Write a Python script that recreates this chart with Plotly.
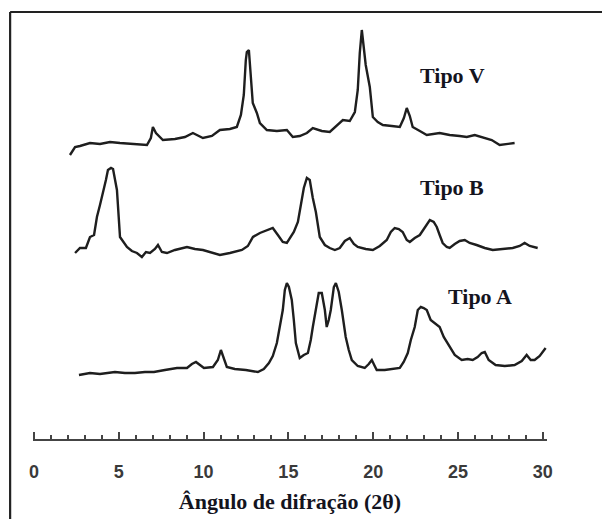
import plotly.graph_objects as go

# Diffraction angle (2θ) and intensity (a.u., vertically offset) for each pattern
angle_v = [2.12, 2.42, 2.71, 3.30, 3.89, 4.48, 5.07, 5.95, 6.66, 6.89, 7.01, 7.19, 7.60, 8.31, 8.90, 9.37,
           9.96, 10.49, 10.96, 11.55, 11.96, 12.20, 12.37, 12.49, 12.55, 12.67, 12.79, 12.90, 13.14, 13.32,
           13.73, 14.32, 14.91, 15.26, 15.67, 16.09, 16.44, 16.97, 17.44, 17.85, 18.21, 18.62, 18.92, 19.09,
           19.21, 19.33, 19.45, 19.56, 19.80, 19.98, 20.27, 20.57, 21.10, 21.57, 21.81, 21.98, 22.16, 22.33,
           22.75, 23.16, 23.92, 24.51, 25.10, 25.52, 25.99, 26.46, 26.99, 27.46, 27.93, 28.34]
inten_v = [284, 292, 293, 296, 295, 297, 296, 295, 294, 301, 312, 306, 299, 300, 302, 306,
           301, 303, 309, 310, 312, 324, 344, 379, 387, 389, 364, 336, 326, 316,
           309, 308, 309, 302, 303, 306, 311, 308, 307, 313, 319, 318, 327, 349,
           386, 409, 389, 374, 352, 322, 317, 314, 313, 312, 321, 331, 323, 312,
           308, 304, 306, 304, 303, 302, 304, 302, 299, 294, 295, 296]

angle_b = [2.42, 2.71, 3.06, 3.30, 3.54, 3.71, 3.89, 4.07, 4.24, 4.36, 4.54, 4.66, 4.77, 4.89, 5.07, 5.30,
           5.48, 5.77, 6.07, 6.36, 6.60, 6.84, 7.13, 7.31, 7.54, 7.84, 8.31, 9.02, 9.49, 9.96, 10.37, 10.96,
           11.55, 12.26, 12.61, 12.91, 13.32, 13.73, 14.08, 14.38, 14.67, 14.91, 15.14, 15.32, 15.56, 15.73,
           15.91, 16.09, 16.26, 16.44, 16.62, 16.85, 17.15, 17.44, 17.74, 18.03, 18.33, 18.62, 18.86, 19.09,
           19.56, 19.98, 20.39, 20.80, 21.04, 21.27, 21.51, 21.74, 21.98, 22.16, 22.45, 22.75, 23.04, 23.34,
           23.57, 23.75, 23.92, 24.10, 24.34, 24.51, 24.81, 25.10, 25.40, 25.69, 26.10, 26.58, 27.05, 27.64,
           28.23, 28.64, 28.93, 29.23, 29.70]
inten_b = [186, 191, 191, 202, 204, 222, 234, 246, 259, 269, 271, 270, 261, 249, 202, 196,
           192, 188, 186, 182, 187, 186, 190, 194, 187, 186, 189, 192, 190, 189, 187, 184,
           186, 189, 193, 202, 206, 209, 211, 204, 197, 196, 203, 207, 217, 234,
           251, 261, 259, 241, 227, 202, 194, 191, 189, 191, 198, 201, 195, 192,
           190, 189, 193, 199, 207, 211, 210, 207, 199, 197, 201, 204, 212, 219,
           217, 212, 204, 196, 192, 191, 195, 198, 199, 196, 194, 191, 189, 190,
           191, 193, 196, 193, 191]

angle_a = [2.65, 3.30, 3.89, 4.77, 5.36, 5.95, 6.54, 7.07, 7.72, 8.43, 9.02, 9.31, 9.55, 9.78, 10.02, 10.55,
           10.84, 11.02, 11.20, 11.37, 11.84, 12.49, 13.20, 13.55, 13.85, 14.08, 14.32, 14.50, 14.67, 14.79,
           14.91, 15.03, 15.20, 15.32, 15.44, 15.67, 15.91, 16.15, 16.32, 16.44, 16.62, 16.79, 16.97, 17.15,
           17.26, 17.38, 17.50, 17.68, 17.80, 17.97, 18.15, 18.27, 18.38, 18.56, 18.74, 19.09, 19.50, 19.74,
           19.92, 20.09, 20.21, 20.68, 21.16, 21.57, 21.80, 22.04, 22.22, 22.45, 22.63, 22.81, 22.98, 23.16,
           23.39, 23.63, 23.92, 24.16, 24.51, 24.81, 25.22, 25.57, 25.87, 26.16, 26.40, 26.58, 26.81, 27.22,
           27.76, 28.34, 28.76, 29.05, 29.29, 29.52, 29.82, 30.17]
inten_a = [64, 66, 65, 67, 66, 66, 67, 67, 69, 71, 71, 75, 77, 74, 71, 72,
           79, 89, 81, 72, 70, 69, 67, 70, 76, 83, 96, 114, 129, 149,
           156, 152, 139, 119, 96, 81, 84, 86, 99, 112, 129, 146, 146, 129,
           112, 119, 129, 152, 156, 147, 129, 114, 102, 89, 79, 73, 71, 75,
           79, 73, 69, 69, 70, 71, 77, 86, 99, 112, 129, 132, 131, 129,
           119, 116, 112, 102, 92, 84, 79, 80, 79, 82, 86, 87, 79, 74,
           73, 74, 78, 84, 79, 79, 83, 91]

series_names = ["Tipo V", "Tipo B", "Tipo A"]
label_angle = [24.69, 24.63, 26.28]
label_inten = [364, 252, 143]

tick_major = [0, 5, 10, 15, 20, 25, 30]
tick_text = ["0", "5", "10", "15", "20", "25", "30"]

fig = go.Figure()
for ang, inten, name in [(angle_v, inten_v, series_names[0]),
                         (angle_b, inten_b, series_names[1]),
                         (angle_a, inten_a, series_names[2])]:
    fig.add_trace(go.Scatter(x=ang, y=inten, mode="lines", name=name,
                             line=dict(color="#1e1e1e", width=2.4),
                             showlegend=False, hoverinfo="x+y"))

for name, xa, ya in zip(series_names, label_angle, label_inten):
    fig.add_annotation(x=xa, y=ya, text="<b>" + name + "</b>", showarrow=False,
                       font=dict(family="Liberation Serif", size=22, color="#14141e"))

# image frame (left and top edges)
fig.add_shape(type="line", xref="paper", yref="paper", x0=-0.0445, x1=-0.0445, y0=1.0, y1=-0.2,
              line=dict(color="#222222", width=2.2))
fig.add_shape(type="line", xref="paper", yref="paper", x0=-0.0445, x1=1.2, y0=1.0, y1=1.0,
              line=dict(color="#222222", width=2.2))

fig.update_layout(
    width=602, height=519,
    margin=dict(l=33, r=55, t=12, b=80, autoexpand=False),
    paper_bgcolor="white", plot_bgcolor="white",
    xaxis=dict(range=[-0.06, 30.25], showgrid=False, zeroline=False, automargin=False,
               showline=True, linecolor="#444444", linewidth=2,
               tickmode="array", tickvals=tick_major, ticktext=tick_text,
               ticks="inside", ticklen=7, tickwidth=1.5, tickcolor="#444444",
               minor=dict(dtick=1, ticks="inside", ticklen=4, tickwidth=1.5, tickcolor="#444444",
                          showgrid=False),
               tickfont=dict(family="Liberation Sans", size=18, color="#3a3a3a", weight="bold"),
               ticklabelstandoff=15,
               title=dict(text="<b>Ângulo de difração (2θ)</b>",
                          font=dict(family="Liberation Serif", size=22, color="#14141e"),
                          standoff=13),
               fixedrange=True),
    yaxis=dict(range=[0, 427], visible=False, fixedrange=True, automargin=False),
)

fig.write_html("out.html")
